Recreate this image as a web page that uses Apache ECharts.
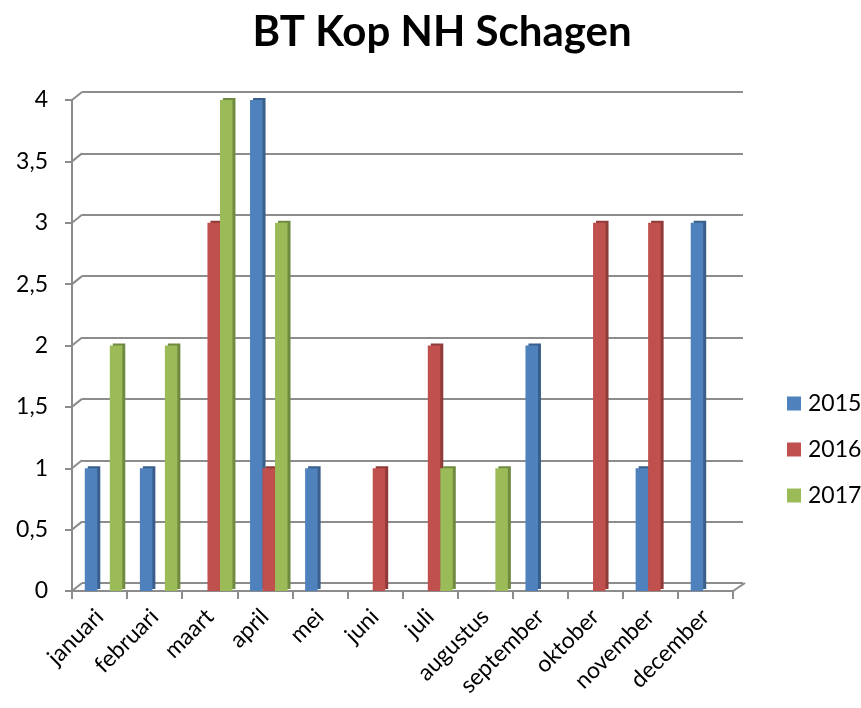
<!DOCTYPE html>
<html>
<head>
<meta charset="utf-8">
<script src="https://cdn.jsdelivr.net/npm/echarts@6/dist/echarts.min.js"></script>
<style>html,body{margin:0;padding:0;background:#fff}#c{width:861px;height:708px}</style>
</head>
<body>
<div id="c"></div>
<script>
var categories = ['januari','februari','maart','april','mei','juni','juli','augustus','september','oktober','november','december'];
var s2015 = [1,1,0,4,1,0,0,0,2,0,1,3];
var s2016 = [0,0,3,1,0,1,2,0,0,3,3,0];
var s2017 = [2,2,4,3,0,0,1,1,0,0,0,0];
var yTicks = [0,0.5,1,1.5,2,2.5,3,3.5,4];
var seriesNames = ['2015','2016','2017'];

var FONT = 'Lato';
var GRID_COLOR = '#8c8c8c';
var colors = ['#4f81bd','#c0504d','#9bbb59'];
var sideColors = ['#3a5f8c','#8f3b39','#718a41'];
var DX = 10, DY = -8;

function nz(arr){ return arr.map(function(v){ return v === 0 ? '-' : v; }); }

var chart = echarts.init(document.getElementById('c'));
var barSeries = [s2015, s2016, s2017].map(function(arr, i){
  return {
    name: seriesNames[i], type: 'bar', xAxisIndex: 2, yAxisIndex: 2,
    data: nz(arr), barWidth: 12.5, barGap: '0%',
    itemStyle: { color: colors[i], shadowColor: sideColors[i], shadowBlur: 0, shadowOffsetX: 3, shadowOffsetY: -2 },
    z: 5
  };
});

chart.setOption({
  animation: false,
  color: colors,
  title: {
    text: 'BT Kop NH Schagen', left: 437, textAlign: 'center', top: 6,
    textStyle: { fontFamily: FONT, fontWeight: 'bold', fontSize: 42, color: '#000' }
  },
  legend: {
    orient: 'vertical', left: 782, top: 387, itemGap: 23, itemWidth: 14, itemHeight: 14,
    icon: 'rect', data: seriesNames,
    textStyle: { fontFamily: FONT, fontSize: 23, color: '#000', padding: [0,0,0,2] }
  },
  grid: [
    { left: 72, top: 100, width: 661, height: 491 },
    { left: 72 + DX, top: 100 + DY, width: 661, height: 491 },
    { left: 76, top: 100, width: 661, height: 491 }
  ],
  xAxis: [
    { type: 'category', gridIndex: 0, data: categories, boundaryGap: true,
      axisLine: { lineStyle: { color: GRID_COLOR, width: 2 } },
      axisTick: { show: true, length: 8, lineStyle: { color: GRID_COLOR, width: 2 } },
      axisLabel: { rotate: 45, margin: 22, interval: 0, fontFamily: FONT, fontSize: 23, color: '#000' } },
    { type: 'category', gridIndex: 1, data: categories, show: false },
    { type: 'category', gridIndex: 2, data: categories, show: false }
  ],
  yAxis: [
    { type: 'value', gridIndex: 0, min: 0, max: 4, interval: 0.5,
      axisLine: { show: true, lineStyle: { color: GRID_COLOR, width: 2 } },
      axisTick: { show: true, length: 7, lineStyle: { color: GRID_COLOR, width: 2 } },
      splitLine: { show: false },
      axisLabel: { margin: 24, fontFamily: FONT, fontSize: 23, color: '#000',
        formatter: function(v){ return String(v).replace('.', ','); } } },
    { type: 'value', gridIndex: 1, min: 0, max: 4, interval: 0.5,
      axisLine: { show: false }, axisTick: { show: false }, axisLabel: { show: false },
      splitLine: { show: true, lineStyle: { color: GRID_COLOR, width: 2 } } },
    { type: 'value', gridIndex: 2, min: 0, max: 4, interval: 0.5, show: false, splitLine: { show: false } }
  ],
  series: barSeries.concat([
    { type: 'custom', xAxisIndex: 0, yAxisIndex: 0, silent: true, z: 1,
      data: yTicks.map(function(v){ return [0, v]; }),
      renderItem: function(params, api){
        var p = api.coord([0, api.value(1)]);
        var half = api.size([1, 0])[0] / 2;
        var x0 = p[0] - half, y0 = p[1];
        return { type: 'line', shape: { x1: x0, y1: y0, x2: x0 + DX, y2: y0 + DY },
          style: { stroke: GRID_COLOR, lineWidth: 2 } };
      } },
    { type: 'custom', xAxisIndex: 0, yAxisIndex: 0, silent: true, z: 1,
      data: [[categories.length - 1, 0]],
      renderItem: function(params, api){
        var p = api.coord([api.value(0), api.value(1)]);
        var half = api.size([1, 0])[0] / 2;
        var x0 = p[0] + half, y0 = p[1];
        return { type: 'line', shape: { x1: x0, y1: y0, x2: x0 + DX + 2, y2: y0 + DY },
          style: { stroke: GRID_COLOR, lineWidth: 2 } };
      } }
  ])
});
</script>
</body>
</html>
